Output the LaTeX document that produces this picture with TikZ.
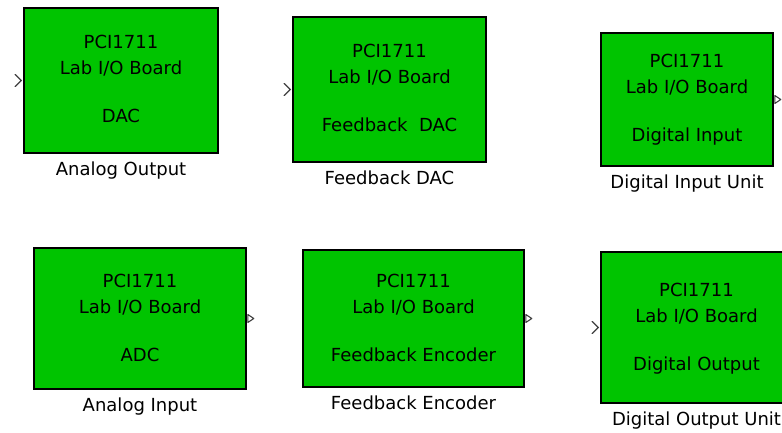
\documentclass[tikz,border=0pt]{standalone}
\usepackage{fontspec}
\usepackage{tikz}
\usetikzlibrary{calc}
\newfontfamily\boardfont{DejaVu Sans}
\definecolor{blockgreen}{HTML}{00C400}
\definecolor{portgray}{HTML}{404040}
\tikzset{
  blk/.style={draw=black, fill=blockgreen, line width=1.6pt, inner sep=0pt},
  txt/.style={font=\boardfont\fontsize{18}{21}\selectfont, text=black, inner sep=0pt, anchor=base},
  inport/.style={draw=portgray, line width=1.3pt, line cap=round},
  outport/.style={draw=portgray, fill=white, line width=1.1pt, line join=round},
}

\begin{document}
\begin{tikzpicture}[x=1pt, y=-1pt]
  \clip (0,0) rectangle (782,433);
  \fill[white] (0,0) rectangle (782,433);

  % blocks: name / centre x / centre y / width / height / unit / caption
  \foreach \n/\cx/\cy/\w/\h/\unit/\cap in {
      ao/121/80.5/194/145/DAC/Analog Output,
      fdac/389.5/89.5/193/145/Feedback~ DAC/Feedback DAC,
      din/687/99.5/172/133/Digital Input/Digital Input Unit,
      ain/140/318.5/212/141/ADC/Analog Input,
      fenc/413.5/318.5/221/137/Feedback Encoder/Feedback Encoder,
      dout/696.5/327.5/191/151/Digital Output/Digital Output Unit}{
    \node[blk, minimum width=\w pt, minimum height=\h pt] (\n) at (\cx,\cy) {};
    \node[txt] (\n-a) at ($(\n.center)+(0,-31.5)$) {PCI1711};
    \node[txt] (\n-b) at ($(\n.center)+(0,-5.5)$) {Lab I/O Board};
    \node[txt] (\n-c) at ($(\n.center)+(0,42.5)$) {\unit};
    \node[txt] (\n-cap) at ($(\n.south)+(0,22)$) {\cap};
  }

  % input ports
  \foreach \n in {ao,fdac,dout}{
    \draw[inport] ($(\n.west)+(-8,-6)$) -- ($(\n.west)+(-2,0)$) -- ($(\n.west)+(-8,6)$);
  }

  % output ports
  \foreach \n in {din,ain,fenc}{
    \draw[outport] ($(\n.east)+(1,-4)$) -- ($(\n.east)+(7,0)$) -- ($(\n.east)+(1,4)$) -- cycle;
  }
\end{tikzpicture}
\end{document}
